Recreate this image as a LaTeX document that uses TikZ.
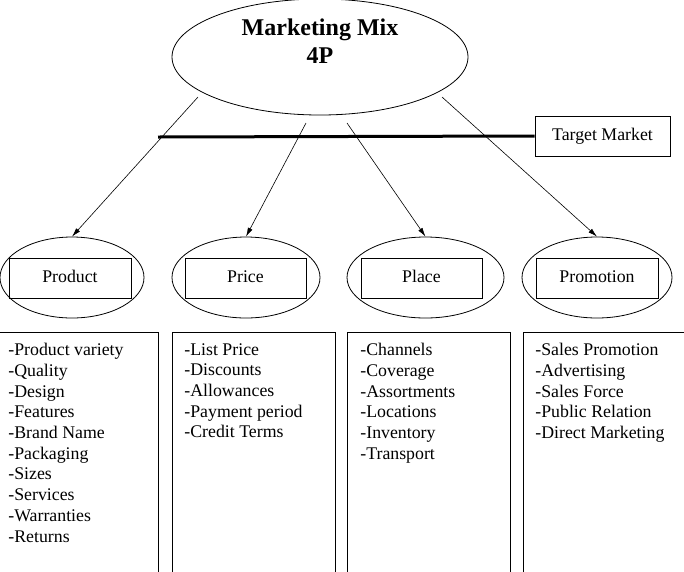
\documentclass[tikz,border=0pt]{standalone}
\usepackage{fontspec}
\setmainfont{Liberation Serif}
\usetikzlibrary{shapes.geometric}
\usetikzlibrary{arrows.meta}

\begin{document}
\begin{tikzpicture}[x=1pt, y=-1pt, line width=0.8pt,
	pill/.style={draw, ellipse, inner sep=0pt, minimum height=81pt},
	tag/.style={draw, rectangle, inner sep=0pt, minimum width=122pt, minimum height=40pt, text height=12.5pt, text depth=4pt, font=\fontsize{17.8}{20.7}\selectfont},
	col/.style={draw, rectangle, anchor=north west, inner sep=0pt, minimum height=300pt},
	items/.style={anchor=north west, inner sep=0pt, align=left, font=\fontsize{17.8}{20.7}\selectfont},
	arr/.style={-{Latex[length=9pt, width=5pt]}, line width=0.6pt}]
	\useasboundingbox (0,0) rectangle (684,571);
	\clip (0,0) rectangle (684,571);

	% the mix and the target market
	\node[draw, ellipse, inner sep=0pt, minimum width=296pt, minimum height=116pt] (mix) at (320,57) {};
	\node[align=center, font=\bfseries\fontsize{24}{27.6}\selectfont] (mixtext) at (320,41) {Marketing Mix\\4P};
	\node[tag, minimum width=135pt] (tm) at (602.5,136) {Target Market};
	\coordinate (bar) at (158,137);
	\draw[line width=3pt] (bar) -- (tm.west);

	% the four P
	\node[pill, minimum width=144pt] (product) at (72,277.5) {};
	\node[pill, minimum width=148pt] (price) at (246,277.5) {};
	\node[pill, minimum width=157pt] (place) at (425.5,277.5) {};
	\node[pill, minimum width=150pt] (promo) at (597,277.5) {};
	\node[tag] (producttag) at (70,278) {Product};
	\node[tag, minimum width=121pt] (pricetag) at (245.5,278) {Price};
	\node[tag, minimum width=121pt] (placetag) at (421.5,278) {Place};
	\node[tag] (promotag) at (597,278) {Promotion};

	\coordinate (s1) at (198,97);
	\coordinate (s2) at (306,123);
	\coordinate (s3) at (347,123);
	\coordinate (s4) at (442,97);
	\draw[arr] (s1) -- (product.north);
	\draw[arr] (s2) -- (price.north);
	\draw[arr] (s3) -- (place.north);
	\draw[arr] (s4) -- (promo.north);

	% lists
	\node[col, minimum width=163pt] (productcol) at (-5,332) {};
	\node[col, minimum width=163pt] (pricecol) at (172,332) {};
	\node[col, minimum width=163pt] (placecol) at (347,332) {};
	\node[col, minimum width=180pt] (promocol) at (522.5,332) {};
	\node[items] (productlist) at (8,343) {-Product variety\\-Quality\\-Design\\-Features\\-Brand Name\\-Packaging\\-Sizes\\-Services\\-Warranties\\-Returns};
	\node[items] (pricelist) at (184,343) {-List Price\\-Discounts\\-Allowances\\-Payment period\\-Credit Terms};
	\node[items] (placelist) at (360,343) {-Channels\\-Coverage\\-Assortments\\-Locations\\-Inventory\\-Transport};
	\node[items] (promolist) at (535,343) {-Sales Promotion\\-Advertising\\-Sales Force\\-Public Relation\\-Direct Marketing};
\end{tikzpicture}
\end{document}
